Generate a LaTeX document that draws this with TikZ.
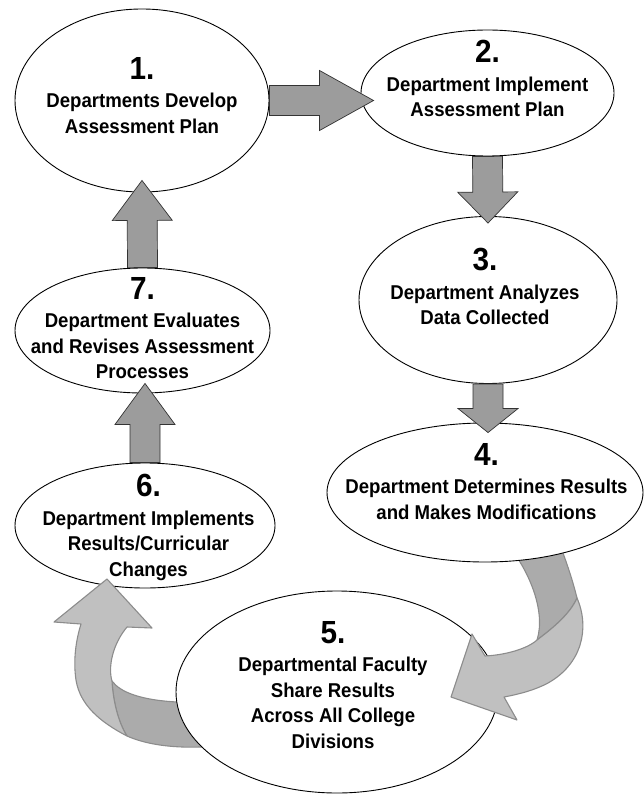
\documentclass[tikz,border=0pt]{standalone}
\usepackage{fontspec}
\setmainfont{Liberation Sans}[FakeStretch=0.93]
\usepackage{tikz}
\usetikzlibrary{shapes.geometric, calc}

\definecolor{blockgray}{HTML}{9C9C9C}
\definecolor{bandlight}{HTML}{C0C0C0}
\definecolor{banddark}{HTML}{ABABAB}
\definecolor{bandedge}{HTML}{8C8C8C}

% straight block arrow: tail, tip, head length
\newcommand{\blockarrow}[3]{%
  \coordinate (ba-base) at ($(#2)!#3!(#1)$);
  \draw[bigarrow] ($(#1)!15pt!90:(#2)$) -- ($(ba-base)!15pt!-90:(#1)$) -- ($(ba-base)!30pt!-90:(#1)$)
    -- (#2) -- ($(ba-base)!30pt!90:(#1)$) -- ($(ba-base)!15pt!90:(#1)$) -- ($(#1)!15pt!-90:(#2)$) -- cycle;}

\begin{document}
\begin{tikzpicture}[x=1pt, y=-1pt,
        stage/.style={ellipse, draw, fill=white, line width=0.9pt, inner sep=0pt},
        stagetext/.style={align=center, inner sep=0pt, anchor=north, font=\bfseries\fontsize{20}{25.5}\selectfont},
        stepno/.style={font=\bfseries\fontsize{32}{32}\selectfont},
        bigarrow/.style={draw=black!80, line width=0.7pt, fill=blockgray},
        bandfront/.style={draw=bandedge, line width=1.1pt, fill=bandlight, line join=round},
        bandback/.style={draw=bandedge, line width=1.1pt, fill=banddark, line join=round}]

        \useasboundingbox (0,0) rectangle (644,794);

        % Stages
        \node [stage, minimum width=260pt, minimum height=125pt] (s6) at (145,525.5) {};
        \node [stage, minimum width=255pt, minimum height=125pt] (s7) at (142.5,330.5) {};
        \node [stage, minimum width=254pt, minimum height=183pt] (s1) at (142,100.5) {};
        \node [stage, minimum width=253pt, minimum height=126pt] (s2) at (487.5,93) {};
        \node [stage, minimum width=258pt, minimum height=167pt] (s3) at (488,300) {};

        % Bent arrow 5 -> 6
        \filldraw [bandback] (112,681) .. controls (120,692) and (140,700) .. (177,702) -- (235,702) -- (235,747)
            -- (200,747) .. controls (170,748) and (145,744) .. (127,736)
            .. controls (118,722) and (113,700) .. (112,681) -- cycle;
        \filldraw [bandfront] (107,579) -- (152,628) -- (127,627) .. controls (112,645) and (108,668) .. (112,681)
            .. controls (113,700) and (118,722) .. (127,736) .. controls (100,722) and (80,705) .. (76,680)
            .. controls (73,660) and (76,640) .. (81,624) -- (54,622) -- cycle;

        \node [stage, minimum width=322pt, minimum height=202pt] (s5) at (337,692) {};

        % Bent arrow 4 -> 5
        \filldraw [bandback] (504,540) .. controls (530,570) and (546,612) .. (537,640)
            .. controls (553,628) and (570,614) .. (577,598)
            .. controls (572,578) and (566,560) .. (556,535) -- cycle;
        \filldraw [bandfront] (537,640) .. controls (553,628) and (570,614) .. (577,598)
            .. controls (590,628) and (582,664) .. (548,683) .. controls (535,690) and (520,694) .. (504,697)
            -- (517,720) -- (451,697) -- (472,634) -- (485,656)
            .. controls (505,655) and (527,649) .. (537,640) -- cycle;

        \node [stage, minimum width=316pt, minimum height=139pt] (s4) at (485,492.5) {};

        % Connections
        \path (s2.west |- s1.east) ++(13,0) coordinate (tip12);
        \path (s3.north) ++(0,7) coordinate (tip23);
        \path (s3.south |- s4.north) ++(0,10) coordinate (tip34);
        \path (s6.north |- s7.south) ++(0,-10) coordinate (tip67);
        \path (s1.south) ++(0,-12) coordinate (tip71);
        \blockarrow{s1.east}{tip12}{54pt}
        \blockarrow{s2.south}{tip23}{31pt}
        \blockarrow{s3.south}{tip34}{24pt}
        \blockarrow{s6.north}{tip67}{41pt}
        \blockarrow{s7.north}{tip71}{40pt}

        % Texts
        \node [stagetext] (t1) at ([yshift=43.5pt]s1.center) {{\fontsize{32}{32}\selectfont 1.}\\[3pt] Departments Develop\\ Assessment Plan};
        \node [stagetext] (t2) at ([yshift=53pt]s2.center) {{\fontsize{32}{32}\selectfont 2.}\\[3pt] Department Implement\\ Assessment Plan};
        \node [stagetext] (t3) at ([xshift=-3pt, yshift=52pt]s3.center) {{\fontsize{32}{32}\selectfont 3.}\\[3pt] Department Analyzes\\ Data Collected};
        \node [stagetext] (t4) at ([xshift=1.5pt, yshift=49.5pt]s4.center) {{\fontsize{32}{32}\selectfont 4.}\\[3pt] Department Determines Results\\ and Makes Modifications};
        \node [stagetext] (t5) at ([xshift=-4pt, yshift=71pt]s5.center) {{\fontsize{32}{32}\selectfont 5.}\\[3pt] Departmental Faculty\\ Share Results\\ Across All College\\ Divisions};
        \node [stagetext] (t6) at ([xshift=3.5pt, yshift=51.5pt]s6.center) {{\fontsize{32}{32}\selectfont 6.}\\[3pt] Department Implements\\ Results/Curricular\\ Changes};
        \node [stagetext] (t7) at ([yshift=53.5pt]s7.center) {{\fontsize{32}{32}\selectfont 7.}\\[3pt] Department Evaluates\\ and Revises Assessment\\ Processes};

    \end{tikzpicture}
\end{document}
